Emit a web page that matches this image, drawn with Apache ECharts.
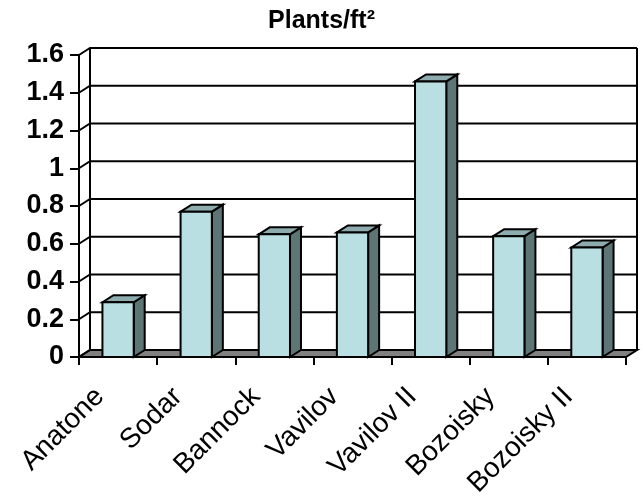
<!DOCTYPE html>
<html>
<head>
<meta charset="utf-8">
<script src="https://cdn.jsdelivr.net/npm/echarts@6/dist/echarts.min.js"></script>
<style>
html,body{margin:0;padding:0;background:#fff;}
#chart{width:643px;height:497px;}
</style>
</head>
<body>
<div id="chart"></div>
<script>
// ---- data ----
const categories = ['Anatone', 'Sodar', 'Bannock', 'Vavilov', 'Vavilov II', 'Bozoisky', 'Bozoisky II'];
const plantsPerFt2 = [0.29, 0.77, 0.65, 0.66, 1.46, 0.64, 0.58];
const yTicks = [0, 0.2, 0.4, 0.6, 0.8, 1, 1.2, 1.4, 1.6];
const chartTitle = 'Plants/ft\u00B2';

// ---- style ----
const DX = 11, DY = -7;
const FONT = '"Liberation Sans", Arial, sans-serif';
const FRONT = '#B9DFE2', TOP = '#8EACAE', SIDE = '#5E7576', FLOOR = '#808080';

const chart = echarts.init(document.getElementById('chart'), null, {renderer: 'canvas'});

const frameSeries = {
  type: 'custom', silent: true, clip: false, z: 1,
  data: [[0, 0]],
  renderItem: function (params, api) {
    const cs = params.coordSys;
    const x = cs.x, y = cs.y, w = cs.width, h = cs.height;
    return {
      type: 'group',
      children: [
        {type: 'polygon', shape: {points: [[x, y + h], [x + w, y + h], [x + w + DX, y + h + DY], [x + DX, y + h + DY]]},
         style: {fill: FLOOR, stroke: '#000', lineWidth: 2}},
        {type: 'line', shape: {x1: x + DX, y1: y + DY, x2: x + DX, y2: y + h + DY}, style: {stroke: '#000', lineWidth: 2}},
        {type: 'line', shape: {x1: x + w + DX, y1: y + DY, x2: x + w + DX, y2: y + h + DY}, style: {stroke: '#000', lineWidth: 2}}
      ]
    };
  }
};

const gridSeries = {
  type: 'custom', silent: true, clip: false, z: 2,
  data: yTicks.map(v => [0, v]),
  renderItem: function (params, api) {
    const cs = params.coordSys;
    const p = api.coord([0, api.value(1)]);
    const yy = p[1];
    return {
      type: 'polyline',
      shape: {points: [[cs.x, yy], [cs.x + DX, yy + DY], [cs.x + cs.width + DX, yy + DY]]},
      style: {stroke: '#000', lineWidth: 2, fill: null}
    };
  }
};

const barSeries = {
  type: 'custom', clip: false, z: 3,
  data: plantsPerFt2.map((v, i) => [i, v]),
  renderItem: function (params, api) {
    const i = api.value(0), v = api.value(1);
    const t = api.coord([i, v]);
    const b = api.coord([i, 0]);
    const bw = api.size([1, 0])[0] * 0.4;
    const xl = t[0] - bw / 2, xr = t[0] + bw / 2, yt = t[1], yb = b[1];
    const st = {stroke: '#000', lineWidth: 2, lineJoin: 'miter'};
    return {
      type: 'group',
      children: [
        {type: 'polygon', shape: {points: [[xr, yt], [xr + DX, yt + DY], [xr + DX, yb + DY], [xr, yb]]},
         style: Object.assign({fill: SIDE}, st)},
        {type: 'polygon', shape: {points: [[xl, yt], [xl + DX, yt + DY], [xr + DX, yt + DY], [xr, yt]]},
         style: Object.assign({fill: TOP}, st)},
        {type: 'rect', shape: {x: xl, y: yt, width: bw, height: yb - yt},
         style: Object.assign({fill: FRONT}, st)}
      ]
    };
  }
};

chart.setOption({
  animation: false,
  backgroundColor: '#fff',
  title: {
    text: chartTitle, left: 'center', top: 4,
    textStyle: {fontFamily: FONT, fontSize: 25, fontWeight: 'bold', color: '#000'}
  },
  grid: {left: 79, right: 17, top: 55, bottom: 140, containLabel: false, outerBoundsMode: 'none'},
  xAxis: {
    type: 'category', data: categories, boundaryGap: true,
    axisLine: {show: true, lineStyle: {color: '#000', width: 2}},
    axisTick: {show: true, length: 8, alignWithLabel: false, lineStyle: {color: '#000', width: 2}},
    axisLabel: {interval: 0, rotate: 45, margin: 17, padding: [0, 26, 0, 0],
      fontFamily: FONT, fontSize: 28, color: '#000'},
    splitLine: {show: false}
  },
  yAxis: {
    type: 'value', min: 0, max: 1.6, interval: 0.2,
    axisLine: {show: true, lineStyle: {color: '#000', width: 2}},
    axisTick: {show: true, length: 9, lineStyle: {color: '#000', width: 2}},
    axisLabel: {margin: 15, fontFamily: FONT, fontSize: 27, fontWeight: 'bold', color: '#000'},
    splitLine: {show: false}
  },
  series: [frameSeries, gridSeries, barSeries]
});
</script>
</body>
</html>
